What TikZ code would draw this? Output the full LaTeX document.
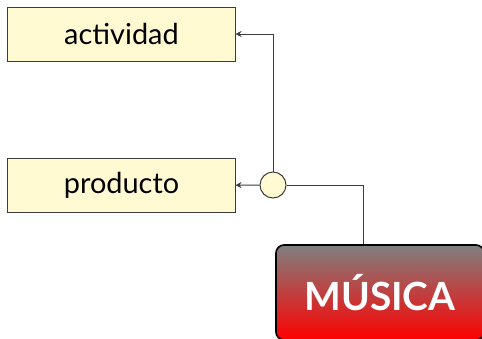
\documentclass[tikz,border=0pt]{standalone}
\usepackage{fontspec}
\setmainfont{Lato}
\usepackage{tikz}
\usetikzlibrary{positioning,calc,arrows.meta}
\definecolor{boxfill}{RGB}{255,250,210}
\definecolor{linegray}{RGB}{60,60,60}
\tikzset{>={Stealth[length=6bp,width=6bp,inset=2bp]}}

\begin{document}
\begin{tikzpicture}[x=1bp,y=-1bp,
  box/.style={draw=linegray,fill=boxfill,line width=1bp,minimum width=227bp,minimum height=54bp,inner sep=0pt,font=\fontsize{29}{33}\selectfont},
  junction/.style={circle,draw=linegray,fill=boxfill,line width=1bp,minimum size=26bp,inner sep=0pt},
  topic/.style={draw=black,line width=1.6bp,rounded corners=8bp,top color=gray,bottom color=red,minimum width=208bp,minimum height=95bp,inner sep=0pt,text=white,font=\fontsize{39}{44}\selectfont\bfseries},
  link/.style={draw=linegray,line width=1bp}]
\useasboundingbox (0,0) rectangle (482,338);
\node[box] (act) at (121.5,34) {actividad};
\node[box] (prod) at (121.5,185.5) {producto};
\node[junction] (j) at (273,185) {};
\node[topic] (mus) at (380,292.5) {MÚSICA};
\draw[link,->] (j) |- (act);
\draw[link,->] (j) -- (prod);
\draw[link] (j) -| ([xshift=-17bp]mus.north);
\end{tikzpicture}
\end{document}
